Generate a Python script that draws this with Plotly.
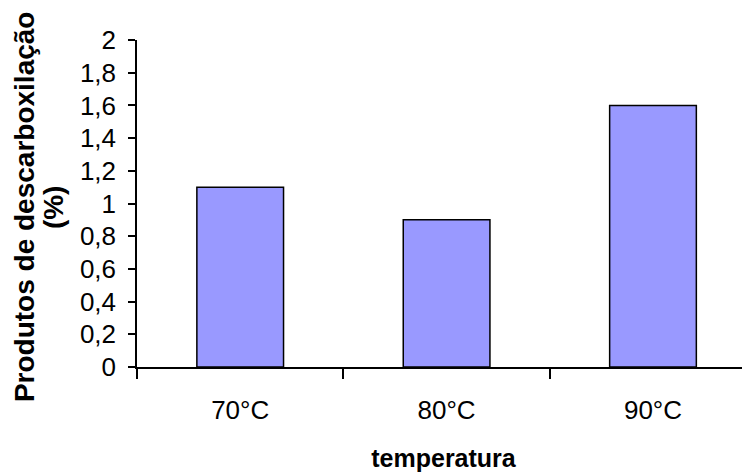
import plotly.graph_objects as go

# Data
temperaturas = ["70°C", "80°C", "90°C"]
produtos = [1.1, 0.9, 1.6]

fig = go.Figure(
    data=[go.Bar(
        x=temperaturas,
        y=produtos,
        marker=dict(color="#9999FF", line=dict(color="black", width=1.5)),
    )]
)

# page has an 8px body margin, margins compensate for it
fig.update_layout(
    width=750,
    height=473,
    margin=dict(l=129, r=8, t=32, b=114),
    paper_bgcolor="white",
    plot_bgcolor="white",
    bargap=0.58,
    separators=",.",
    showlegend=False,
    font=dict(family="Liberation Sans, Arial, sans-serif", size=26, color="black"),
)

fig.update_xaxes(
    range=[-0.5, 2.47],
    automargin=False,
    showline=True, linecolor="black", linewidth=1.5,
    ticks="outside", tickson="boundaries", ticklen=10, tickcolor="black", tickwidth=1.5,
    ticklabelstandoff=19,
    showgrid=False,
    title=dict(text="<b>temperatura</b>", standoff=26,
               font=dict(family="Liberation Sans, Arial, sans-serif", size=25)),
)

fig.update_yaxes(
    range=[0, 2],
    dtick=0.2,
    automargin=False,
    showline=True, linecolor="black", linewidth=1.5,
    ticks="outside", ticklen=7, tickcolor="black", tickwidth=1.5,
    ticklabelstandoff=7,
    showgrid=False, zeroline=False,
)

# y axis title, two rotated lines placed like the original
title_font = dict(family="Liberation Sans, Arial, sans-serif", size=28, color="black")
fig.add_annotation(text="<b>Produtos de descarboxilação</b>", textangle=-90,
                   xref="paper", yref="paper", x=0, y=0.489, xshift=-113,
                   xanchor="center", yanchor="middle", showarrow=False, font=title_font)
fig.add_annotation(text="<b>(%)</b>", textangle=-90,
                   xref="paper", yref="paper", x=0, y=0.489, xshift=-84,
                   xanchor="center", yanchor="middle", showarrow=False, font=title_font)

fig.write_html("out.html")
